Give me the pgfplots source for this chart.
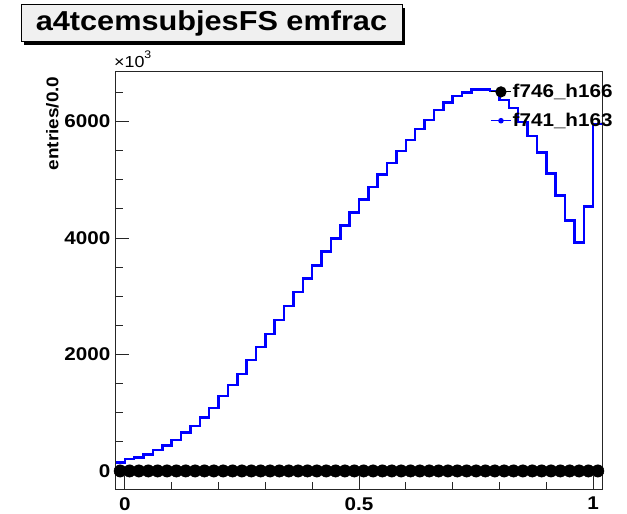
\documentclass[border=0pt]{standalone}
\usepackage{fontspec}
\setmainfont{Liberation Sans}[FakeStretch=1.12]
\usepackage{pgfplots}
\usepackage{pgfplotstable}
\pgfplotsset{compat=1.18}
\definecolor{rootblue}{RGB}{0,0,255}
\definecolor{titlefill}{RGB}{240,240,240}

\pgfplotstableread{
x y
-0.02 149
0.00 206
0.02 229
0.04 286
0.06 360
0.08 434
0.10 531
0.12 657
0.14 771
0.16 920
0.18 1085
0.20 1286
0.22 1474
0.24 1663
0.26 1903
0.28 2131
0.30 2348
0.32 2588
0.34 2834
0.36 3074
0.38 3303
0.40 3531
0.42 3771
0.44 3988
0.46 4217
0.48 4434
0.50 4660
0.52 4874
0.54 5086
0.56 5285
0.58 5497
0.60 5686
0.62 5874
0.64 6028
0.66 6200
0.68 6325
0.70 6440
0.72 6500
0.74 6548
0.76 6548
0.78 6520
0.80 6370
0.82 6230
0.84 5989
0.86 5750
0.88 5468
0.90 5108
0.92 4731
0.94 4303
0.96 3920
0.98 4543
1.00 5960
1.02 5960
}\bluehist

\pgfplotstableread{
x y
-0.01 0
0.01 0
0.03 0
0.05 0
0.07 0
0.09 0
0.11 0
0.13 0
0.15 0
0.17 0
0.19 0
0.21 0
0.23 0
0.25 0
0.27 0
0.29 0
0.31 0
0.33 0
0.35 0
0.37 0
0.39 0
0.41 0
0.43 0
0.45 0
0.47 0
0.49 0
0.51 0
0.53 0
0.55 0
0.57 0
0.59 0
0.61 0
0.63 0
0.65 0
0.67 0
0.69 0
0.71 0
0.73 0
0.75 0
0.77 0
0.79 0
0.81 0
0.83 0
0.85 0
0.87 0
0.89 0
0.91 0
0.93 0
0.95 0
0.97 0
0.99 0
1.01 0
}\blackpts

\begin{document}
\begin{tikzpicture}
\path[use as bounding box] (0bp,0bp) rectangle (627bp,514bp);
\fill[black] (23.5bp,469bp) rectangle (404.5bp,506bp);
\draw[fill=titlefill, line width=1bp] (21bp,472bp) rectangle (402bp,509bp);
\node[font=\bfseries\fontsize{27.5}{27.5}\selectfont] at (211.5bp,490.5bp) {a4tcemsubjesFS emfrac};
\begin{axis}[
  at={(115.5bp,25bp)}, anchor=south west,
  scale only axis, width=487bp, height=417bp,
  xmin=-0.02, xmax=1.02, ymin=-310, ymax=6850,
  tick align=inside, tick pos=left,
  xtick={0,0.5,1}, minor xtick={0.1,0.2,0.3,0.4,0.6,0.7,0.8,0.9},
  ytick={0,2000,4000,6000},
  minor ytick={500,1000,1500,2500,3000,3500,4500,5000,5500,6500},
  major tick length=13bp, minor tick length=7bp,
  axis line style={line width=1bp, black!85},
  every tick/.style={black!85, line width=0.8bp},
  ticklabel style={font=\bfseries\fontsize{18.5}{18.5}\selectfont},
  /pgf/number format/1000 sep={},
  /pgf/number format/assume math mode=true,
  scaled y ticks=false,
  yticklabel style={inner sep=0pt, xshift=-5bp},
  xticklabel style={inner sep=0pt, yshift=-8bp},
  clip=false,
  legend style={at={(0.769,0.973)}, anchor=north west, draw=none, fill=none,
    inner sep=0pt, row sep=12bp,
    font=\bfseries\fontsize{18.5}{18.5}\selectfont, nodes={inner sep=1bp}},
  legend cell align=left,
  legend image code/.code={\draw[mark repeat=2,mark phase=2,#1] plot coordinates {(0bp,0bp)(10bp,0bp)(20bp,0bp)};},
]
\addplot[black, only marks, mark=*, mark size=6.2bp, forget plot] table {\blackpts};
\addplot[black, line width=2bp, forget plot] table {\blackpts};
\addplot[rootblue, line width=2.5bp, const plot mark left, forget plot] table {\bluehist};
\addlegendimage{black, line width=1.2bp, mark=*, mark size=5bp}
\addlegendentry{f746\_h166}
\addlegendimage{rootblue, line width=1.5bp, mark=*, mark size=2bp}
\addlegendentry{f741\_h163}
\end{axis}
\node[rotate=90, anchor=east, font=\bfseries\fontsize{17}{17}\selectfont] at (52.5bp,441bp) {entries/0.0};
\node[anchor=base west, inner sep=0pt, font=\fontsize{16}{16}\selectfont] at (114bp,446bp) {×10\raisebox{9bp}{\fontsize{11}{11}\selectfont 3}};
\end{tikzpicture}
\end{document}
